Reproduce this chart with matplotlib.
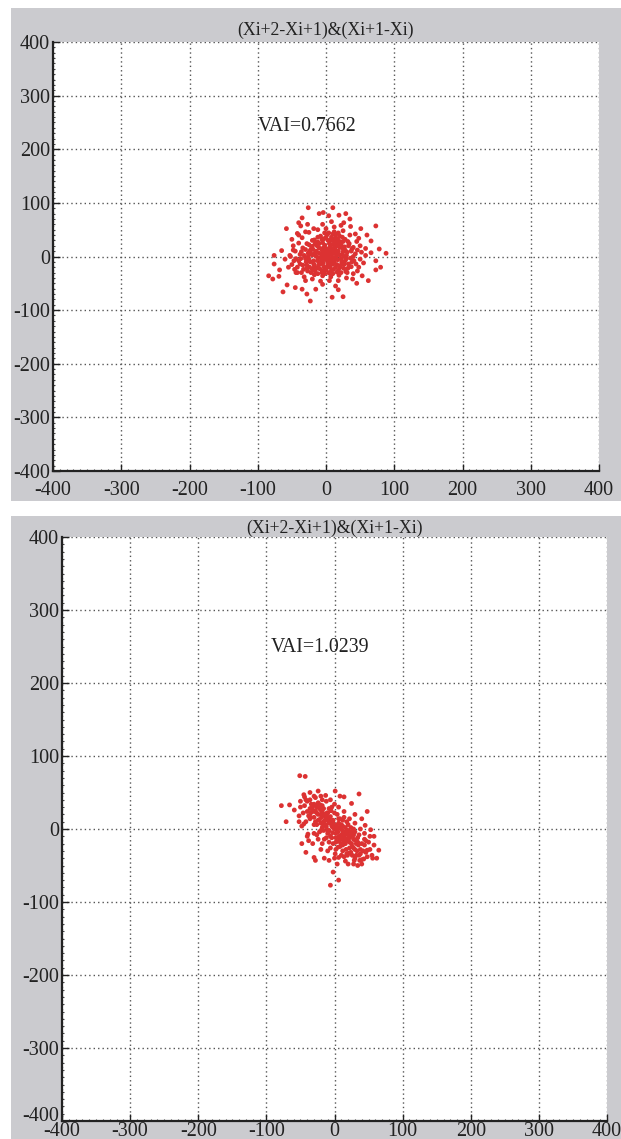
import matplotlib
matplotlib.use("Agg")
import matplotlib.pyplot as plt
from matplotlib.patches import Rectangle
from matplotlib.transforms import ScaledTranslation

plt.rcParams["axes.unicode_minus"] = False

# ---- data ----
ticks = [-400, -300, -200, -100, 0, 100, 200, 300, 400]
title_text = "(Xi+2-Xi+1)&(Xi+1-Xi)"
vai_top = "VAI=0.7662"
vai_bottom = "VAI=1.0239"

# top panel: dense core
top_core = [
    (0, 0), (5, 3), (10, -2), (-5, 5), (3, 10), (8, 12), (12, 6), (15, 0), (-3, -5), (2, -8),
    (7, -6), (12, -10), (-8, -2), (-10, 6), (-6, 12), (0, 15), (6, 18), (12, 16), (18, 10), (20, 3),
    (17, -6), (10, -14), (3, -15), (-4, -12), (-12, -8), (-15, 1), (-14, 10), (-10, 16), (-2, 21), (5, 24),
    (13, 22), (20, 17), (25, 9), (26, 0), (23, -10), (16, -15), (6, -20), (-3, -19), (-11, -16), (-18, -8),
    (-20, 3), (-19, 13), (-13, 20), (-5, 26), (3, 30), (11, 29), (19, 25), (27, 18), (31, 8), (30, -4),
    (27, -14), (20, -21), (11, -24), (0, -25), (-9, -23), (-17, -19), (-23, -10), (-26, 0), (-24, 10), (-20, 19),
    (-12, 27), (-3, 33), (8, 36), (17, 33), (25, 28), (33, 20), (37, 10), (36, -3), (33, -14), (26, -22),
    (16, -29), (5, -31), (-6, -30), (-16, -27), (-24, -20), (-29, -10), (-32, 2), (-30, 13), (-25, 22), (-17, 31),
    (-8, 38), (2, 41), (14, 40), (24, 36), (32, 28), (40, 17), (43, 5), (41, -8), (37, -19), (29, -28),
    (19, -35), (7, -38), (-5, -36), (-17, -34), (-27, -27), (-34, -16), (-37, -4), (-36, 9),
    (1, 4), (4, -2), (9, 5), (-2, 8), (6, 8), (-6, -8), (14, 12), (9, -9), (-1, -1), (4, 6),
    (8, 22), (15, 28), (22, 22), (10, 32), (4, 44), (18, 44), (-28, -22), (-38, -14), (-22, -30), (-33, -24),
    (-25, -5), (-22, 5), (-18, -14), (-14, -22), (-8, -14), (-4, -26), (2, -20), (8, -26), (14, -20), (18, -26),
    (22, -16), (28, -8), (30, 2), (28, 12), (24, 16), (20, 28), (14, 34), (6, 30), (0, 36), (-6, 32),
    (-10, 24), (-16, 24), (-22, 14), (-26, 6), (-30, -4), (-28, -16), (-20, -24), (-12, -32), (-2, -32), (10, -32),
    (22, -30), (32, -22), (38, -10), (40, 0), (38, 14), (34, 24), (28, 32), (20, 38), (10, 42), (-2, 44),
    (-12, 36), (-20, 30), (-28, 24), (-34, 16), (-38, 4), (-40, -8), (-42, -20), (-36, -30), (-2, 4), (2, 12),
    (10, 10), (16, 6), (22, -4), (6, -10), (-6, 0), (-10, -12), (14, -4), (0, 8), (8, -14), (-4, 16),
    (16, 20), (24, 4), (-16, 6), (-12, -2), (4, -30), (12, 46), (-46, -24), (46, 12), (44, -14), (-44, -4),
]
# top panel: scattered halo
top_halo = [
    (-26, 91), (10, 91), (-10, 80), (-4, 82), (4, 76), (19, 77), (29, 80), (-40, 63), (-37, 57), (-27, 60),
    (26, 63), (36, 56), (51, 52), (73, 57), (-58, 52), (-42, 43), (-30, 46), (43, 42), (66, 29), (-65, 11),
    (-76, 2), (-53, 2), (78, 14), (88, 6), (66, 7), (58, 2), (-76, -14), (-84, -36), (-69, -37), (-78, -42),
    (-63, -66), (-57, -53), (-45, -58), (-35, -61), (-30, -45), (-23, -83), (-15, -61), (9, -76), (25, -75), (14, -55),
    (39, -42), (53, -36), (73, -25), (73, -8), (46, -27), (31, -30), (-48, 20), (-55, -20), (-47, -8), (-44, -30),
    (50, 20), (55, -12), (48, 34), (60, 40), (-18, 52), (22, 58), (-5, 60), (8, 65), (45, -50), (-5, -52),
    (-50, 32), (62, -45), (-68, -25), (80, -20), (35, 70), (-35, 72), (18, -62), (-28, -70), (58, 15), (-60, -5),
    (-45, 10), (-40, 25), (-35, 35), (-25, 45), (-12, 50), (0, 52), (12, 55), (25, 48), (35, 40), (45, 28),
    (52, 8), (50, -5), (48, -20), (40, -32), (30, -40), (18, -45), (5, -45), (-8, -46), (-20, -42), (-32, -38),
    (-42, -30), (-50, -15), (-52, 0), (-48, 12), (-40, 40),
]

# bottom panel: dense core (tilted upper-left to lower-right)
bottom_core = [
    (0, 0), (5, -4), (-4, 4), (10, -8), (-8, 8), (3, 5), (-3, -5), (8, 2), (-8, -2), (15, -12),
    (-14, 12), (12, -3), (-12, 3), (2, -12), (-2, 12), (20, -16), (-19, 16), (18, -6), (-17, 7), (6, -17),
    (-6, 17), (25, -20), (-24, 20), (22, -12), (-22, 13), (12, -22), (-11, 22), (28, -26), (-28, 25), (30, -15),
    (-30, 16), (17, -28), (-16, 28), (33, -30), (-33, 30), (26, -6), (-26, 6), (5, -25), (-5, 25), (35, -22),
    (-35, 22), (21, -33), (-21, 33), (10, 6), (-10, -6), (16, 2), (-16, -2), (12, 12), (-12, -12), (18, 10),
    (-15, -14), (24, 2), (-22, -4), (4, 20), (-2, -20), (14, 16), (-8, -18), (28, -8), (-26, -8), (30, -4),
    (8, 14), (-20, 26), (22, -26), (38, -28), (-36, 28), (34, -12), (-30, 6), (2, -28), (-4, 30), (40, -20),
    (-38, 18), (26, -36), (-24, 36), (6, 8), (-6, -10), (14, -16), (-10, 16), (20, -2), (-18, 2), (10, -20),
    (1, 3), (4, -1), (-2, 2), (7, -10), (-7, 10), (13, -6), (-13, 6), (16, -20), (-15, 20), (9, -14),
    (42, -30), (36, -36), (-40, 24), (-30, 34), (0, 34), (-12, 38), (14, -38), (30, -40), (44, -14), (-42, 10),
    (-20, 20), (-26, 22), (-32, 26), (-28, 32), (-22, 28), (-18, 24), (-14, 18), (-10, 22), (-6, 12), (-2, 8),
    (2, -6), (6, -12), (10, -14), (14, -10), (18, -14), (22, -18), (26, -24), (30, -28), (32, -20), (28, -14),
    (24, -10), (20, -8), (16, -4), (10, 0), (4, 2), (-4, 10), (-10, 12), (-16, 10), (-20, 8), (-24, 12),
    (-30, 24), (-34, 34), (-26, 30), (-18, 32), (-8, 28), (0, 22), (6, 14), (12, 4), (18, -2), (24, -4),
    (34, -18), (38, -34), (32, -36), (24, -32), (18, -34), (12, -30), (8, -24), (2, -18), (-4, -12), (-10, -2),
    (-20, -2), (-28, 10), (-36, 14), (20, 6), (28, 0), (36, -8), (44, -22), (46, -32), (-6, -26), (0, -40),
    (10, -36), (-18, -20), (-24, -14), (-30, -6), (40, -42), (-44, 32), (-40, 38), (-46, 22),
]
# bottom panel: scattered halo
bottom_halo = [
    (-51, 73), (-43, 72), (-45, 47), (-78, 32), (-66, 33), (-59, 26), (-71, 10), (1, 52), (8, 45), (14, 44),
    (-13, 46), (-28, 43), (36, 48), (48, 24), (40, 14), (53, -1), (46, -16), (48, -29), (65, -29), (43, -41),
    (37, -43), (29, -43), (19, -36), (6, -39), (1, -34), (-42, -32), (-30, -39), (-28, -43), (-8, -43), (-2, -59),
    (6, -70), (-6, -77), (-38, -16), (-39, -7), (-35, 16), (-45, 7), (25, 35), (-20, 45), (52, -10), (58, -22),
    (-48, -20), (20, -48), (-15, -40), (45, 5), (-50, 38), (30, 20), (-52, 18), (55, -36), (62, -40), (-36, 40),
    (-50, 30), (-42, 40), (-30, 45), (-18, 40), (-6, 40), (6, 30), (14, 24), (22, 14), (30, 8), (38, 0),
    (44, -6), (50, -18), (52, -28), (48, -38), (40, -48), (28, -48), (16, -44), (4, -48), (-10, -30), (-20, -28),
    (-32, -20), (-40, -10), (-48, 4), (-52, 10), (-44, 44), (-36, 50), (-24, 52), (58, -10), (56, -40), (34, -50),
]


def draw_panel(fig, rect, core, halo, vai_text, vai_xy, xpad, title_pad, lift_bottom_label=0):
    ax = fig.add_axes(rect)
    ax.set_facecolor("white")
    pts = core + halo
    xs = [p[0] for p in pts]
    ys = [p[1] for p in pts]
    ax.scatter(xs, ys, s=12, color="#dc3232", edgecolors="none", zorder=3)

    ax.set_xlim(-400, 400)
    ax.set_ylim(-400, 400)
    ax.set_xticks(ticks)
    ax.set_yticks(ticks)
    ax.set_xticks(range(-400, 401, 10), minor=True)
    ax.set_yticks(range(-400, 401, 10), minor=True)
    ax.grid(True, which="major", linestyle=(0, (1, 2.2)), color="#555555", linewidth=1.0)

    for side in ["top", "right"]:
        ax.spines[side].set_visible(False)
    for side in ["left", "bottom"]:
        ax.spines[side].set_linewidth(1.6)
        ax.spines[side].set_color("#222222")

    ax.tick_params(which="major", direction="in", length=5, width=1, color="#222222",
                   labelsize=14.5, pad=2)
    ax.tick_params(which="minor", direction="in", length=1.5, width=0.8, color="#444444")
    ax.tick_params(axis="x", which="major", pad=xpad)
    for lab in ax.get_xticklabels() + ax.get_yticklabels():
        lab.set_fontfamily("Liberation Serif")
        lab.set_color("#222222")

    # the lowest y label sits a little above its tick, as in the original
    if lift_bottom_label:
        lab = ax.get_yticklabels()[0]
        lab.set_transform(lab.get_transform()
                          + ScaledTranslation(0, lift_bottom_label / 72, fig.dpi_scale_trans))

    ax.set_title(title_text, fontfamily="Liberation Serif", fontsize=12.8, pad=title_pad, color="#222222")
    ax.text(vai_xy[0], vai_xy[1], vai_text, fontfamily="Liberation Serif", fontsize=14.3,
            ha="left", va="center", color="#222222")
    return ax


fig = plt.figure(figsize=(6.21, 11.39), dpi=100)
fig.patch.set_facecolor("white")

# grey panel backgrounds, kept behind the axes
fig.patches.append(Rectangle((11 / 621, 1 - 501 / 1139), 1 - 11 / 621, (501 - 8) / 1139,
                             transform=fig.transFigure, facecolor="#cbcbcf", edgecolor="none", zorder=-5))
fig.patches.append(Rectangle((11 / 621, 0), 1 - 11 / 621, 1 - 516 / 1139,
                             transform=fig.transFigure, facecolor="#cbcbcf", edgecolor="none", zorder=-5))

draw_panel(fig, [53 / 621, 1 - 471 / 1139, 546 / 621, 429 / 1139],
           top_core, top_halo, vai_top, (-100, 243), 7, 5)
draw_panel(fig, [62 / 621, 1 - 1121 / 1139, 545 / 621, 584 / 1139],
           bottom_core, bottom_halo, vai_bottom, (-93, 248), 0.5, 3, lift_bottom_label=5)

fig.savefig("out.png", dpi=100)
plt.close(fig)
